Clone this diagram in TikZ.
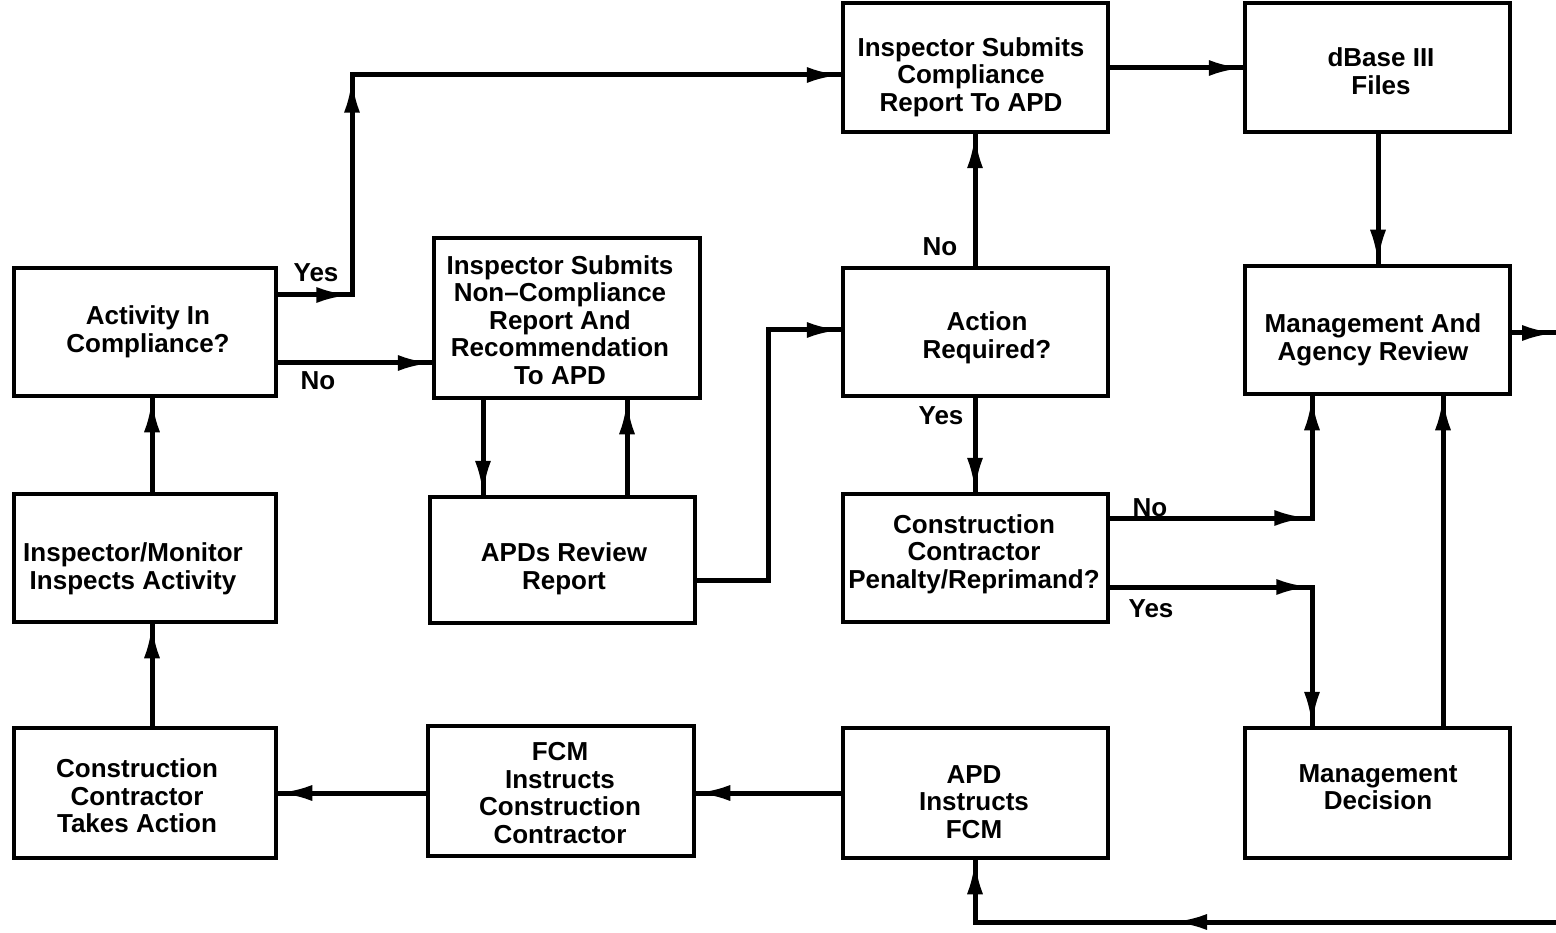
\documentclass[tikz,border=0pt]{standalone}
\usepackage{fontspec}
\setmainfont{Liberation Sans}
\usetikzlibrary{arrows.meta,calc,decorations.markings}
\tikzset{
  tip/.tip={Latex[length=34pt,width=16pt]},
  txt/.style={font=\bfseries\fontsize{26}{27.5}\selectfont,align=center,inner sep=0pt},
  box/.style={draw,line width=4.5pt,rectangle,inner sep=0pt,minimum width=265pt,minimum height=128pt},
  conn/.style={line width=5pt},
  lbl/.style={txt},
  arr/.style={conn,postaction={decorate},decoration={markings,mark=at position 1 with {\arrow{tip}}}},
  arrm/.style={conn,postaction={decorate},decoration={markings,mark=at position #1 with {\arrow{tip}},mark=at position 1 with {\arrow{tip}}}},
  arrmm/.style 2 args={conn,postaction={decorate},decoration={markings,mark=at position #1 with {\arrow{tip}},mark=at position #2 with {\arrow{tip}},mark=at position 1 with {\arrow{tip}}}}
}
\begin{document}
\begin{tikzpicture}[x=1pt,y=-1pt]
\useasboundingbox (0,0) rectangle (1556,933);
\fill[white] (0,0) rectangle (1556,933);
% boxes
\node[box,minimum width=262pt] (act) at (145,332) {};
\node[box,minimum width=266pt,minimum height=160pt] (ncr) at (567,318) {};
\node[box,minimum height=129pt] (comp) at (975.5,67.5) {};
\node[box,minimum height=129pt] (dbase) at (1377.5,67.5) {};
\node[box] (actreq) at (975.5,332) {};
\node[box] (mar) at (1377.5,330) {};
\node[box,minimum width=262pt] (imon) at (145,558) {};
\node[box,minimum height=126pt] (apd) at (562.5,560) {};
\node[box] (pen) at (975.5,558) {};
\node[box,minimum width=262pt,minimum height=130pt] (cta) at (145,793) {};
\node[box,minimum width=266pt,minimum height=130pt] (fcm) at (561,791) {};
\node[box,minimum height=130pt] (apdfcm) at (975.5,793) {};
\node[box,minimum height=130pt] (md) at (1377.5,793) {};
% box texts
\node[txt] (actT) at (148,332) {Activity In\\Compliance?};
\node[txt] (ncrT) at (560,320) {Inspector Submits\\Non--Compliance\\Report And\\Recommendation\\To APD};
\node[txt] (compT) at (971,77) {Inspector Submits\\Compliance\\Report To APD};
\node[txt] (dbaseT) at (1381,71) {dBase III\\Files};
\node[txt] (actreqT) at (987,338) {Action\\Required?};
\node[txt] (marT) at (1373,340) {Management And\\Agency Review};
\node[txt] (imonT) at (133,569) {Inspector/Monitor\\Inspects Activity};
\node[txt] (apdT) at (564,569) {APDs Review\\Report};
\node[txt] (penT) at (974,554) {Construction\\Contractor\\Penalty/Reprimand?};
\node[txt] (ctaT) at (137,796) {Construction\\Contractor\\Takes Action};
\node[txt] (fcmT) at (560,793) {FCM\\Instructs\\Construction\\Contractor};
\node[txt] (apdfcmT) at (974,802) {APD\\Instructs\\FCM};
\node[txt] (mdT) at (1378,787) {Management\\Decision};
% labels
\node[lbl] (lyes1) at (316,273) {Yes};
\node[lbl] (lno1) at (318,381) {No};
\node[lbl] (lno2) at (940,247) {No};
\node[lbl] (lyes2) at (941,416) {Yes};
\node[lbl] (lno3) at (1150,508) {No};
\node[lbl] (lyes3) at (1151,609) {Yes};
% helper coordinates
\coordinate (ya) at (352,295);
\coordinate (yb) at (352,75);
\coordinate (na) at (300,363);
\coordinate (dl) at (483,450);
\coordinate (ul) at (627,450);
\coordinate (ra) at (768,580);
\coordinate (rb) at (768,330);
\coordinate (va) at (975,200);
\coordinate (db) at (1180,68);
\coordinate (dv) at (1378,200);
\coordinate (pa) at (1312,518);
\coordinate (pb) at (1312,587);
\coordinate (mv) at (1443,600);
\coordinate (rout) at (1556,333);
\coordinate (rin) at (1556,922);
\coordinate (bc) at (975,922);
\coordinate (hy) at (700,793);
\coordinate (lv) at (152,680);
% connectors
\draw[arrmm={72pt}{290pt}] (act.east |- ya) -- (ya) -- (yb) -- (comp.west |- yb);
\draw[arr] (act.east |- na) -- (ncr.west |- na);
\draw[arr] (ncr.south -| dl) -- (apd.north -| dl);
\draw[arr] (apd.north -| ul) -- (ncr.south -| ul);
\draw[arr] (apd.east |- ra) -- (ra) -- (rb) -- (actreq.west |- rb);
\draw[arr] (actreq.north -| va) -- (comp.south -| va);
\draw[arr] (actreq.south -| va) -- (pen.north -| va);
\draw[arrm=198pt] (pen.east |- pa) -- (pa) -- (mar.south -| pa);
\draw[arrm=200pt] (pen.east |- pb) -- (pb) -- (md.north -| pb);
\draw[arr] (md.north -| mv) -- (mar.south -| mv);
\draw[arr] (comp.east |- db) -- (dbase.west |- db);
\draw[arr] (dbase.south -| dv) -- (mar.north -| dv);
\draw[arr] (mar.east |- rout) -- (rout);
\draw[arrm=383pt] (rin) -- (bc) -- (apdfcm.south -| bc);
\draw[arr] (apdfcm.west |- hy) -- (fcm.east |- hy);
\draw[arr] (fcm.west |- hy) -- (cta.east |- hy);
\draw[arr] (cta.north -| lv) -- (imon.south -| lv);
\draw[arr] (imon.north -| lv) -- (act.south -| lv);
\end{tikzpicture}
\end{document}
